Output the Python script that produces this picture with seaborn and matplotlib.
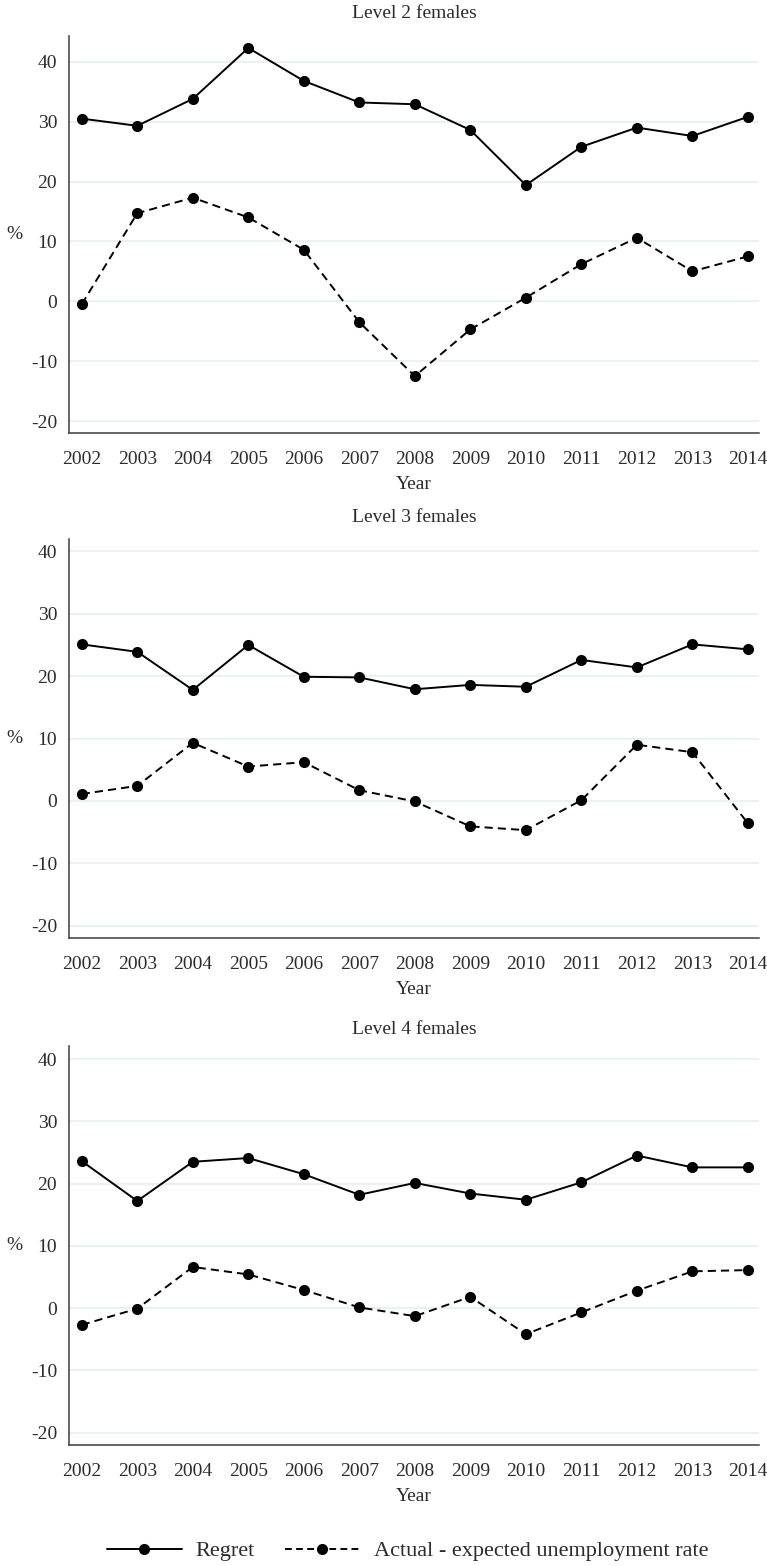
import matplotlib
matplotlib.use("Agg")
import matplotlib.pyplot as plt
from matplotlib.lines import Line2D
import seaborn as sns
import pandas as pd

# ---- data ----
years = [2002, 2003, 2004, 2005, 2006, 2007, 2008, 2009, 2010, 2011, 2012, 2013, 2014]

panel_titles = ["Level 2 females", "Level 3 females", "Level 4 females"]

regret_l2 = [30.5, 29.3, 33.8, 42.3, 36.8, 33.2, 32.9, 28.6, 19.4, 25.8, 29.0, 27.6, 30.8]
gap_l2 = [-0.5, 14.7, 17.3, 14.0, 8.6, -3.5, -12.5, -4.7, 0.6, 6.2, 10.6, 5.0, 7.5]

regret_l3 = [25.1, 23.9, 17.8, 25.0, 19.9, 19.8, 17.9, 18.6, 18.3, 22.6, 21.4, 25.1, 24.3]
gap_l3 = [1.1, 2.4, 9.3, 5.5, 6.2, 1.7, -0.1, -4.1, -4.7, 0.1, 9.0, 7.8, -3.6]

regret_l4 = [23.6, 17.2, 23.5, 24.1, 21.5, 18.2, 20.1, 18.4, 17.4, 20.2, 24.5, 22.6, 22.6]
gap_l4 = [-2.7, -0.1, 6.6, 5.4, 2.9, 0.1, -1.3, 1.8, -4.2, -0.7, 2.8, 5.9, 6.1]

y_ticks = [-20, -10, 0, 10, 20, 30, 40]
series_names = ["Regret", "Actual - expected unemployment rate"]

# ---- style ----
sns.set_theme(style="white")
plt.rcParams["font.family"] = ["Liberation Serif", "DejaVu Serif"]
TEXT = "#2b2b2b"
AXIS = "#3c3c3c"
GRID = "#e8f0f2"
MS = 8.0
LW = 1.4

fig = plt.figure(figsize=(7.67, 15.66), dpi=100)

W, H = 767.0, 1566.0
# pixel boxes of each panel: (top, bottom)
boxes = [(36, 433), (539, 938), (1046, 1445)]
ylims = [(-22.0, 44.3), (-22.0, 42.0), (-22.0, 42.1)]
title_pads = [13, 12, 9]
left_px, right_px = 69, 759

data = [(regret_l2, gap_l2), (regret_l3, gap_l3), (regret_l4, gap_l4)]

for i, ((top, bot), (reg, gap)) in enumerate(zip(boxes, data)):
    ax = fig.add_axes([left_px / W, 1 - bot / H, (right_px - left_px) / W, (bot - top) / H])
    df = pd.DataFrame({"Year": years, "Regret": reg, "Gap": gap})

    sns.lineplot(data=df, x="Year", y="Regret", ax=ax, color="black",
                 linewidth=LW, marker="o", markersize=MS,
                 markeredgewidth=0, zorder=3)
    sns.lineplot(data=df, x="Year", y="Gap", ax=ax, color="black",
                 linewidth=LW, marker="o", markersize=MS,
                 markeredgewidth=0, zorder=3)
    ax.lines[-1].set_dashes((4.2, 2.6))

    ax.set_xlim(2001.77, 2014.2)
    ax.set_ylim(*ylims[i])
    ax.set_xticks(years)
    ax.set_xticklabels([str(y) for y in years])
    ax.set_yticks(y_ticks)
    ax.set_yticklabels([str(t) for t in y_ticks])

    ax.grid(axis="y", color=GRID, linewidth=1.3, zorder=0)
    ax.grid(axis="x", visible=False)

    for side in ["top", "right"]:
        ax.spines[side].set_visible(False)
    for side in ["left", "bottom"]:
        ax.spines[side].set_color(AXIS)
        ax.spines[side].set_linewidth(1.1)

    ax.tick_params(axis="both", which="major", direction="out", length=5,
                   width=1.0, color=AXIS, labelsize=14, labelcolor=TEXT)
    ax.tick_params(axis="y", pad=3.5)
    ax.tick_params(axis="x", pad=8)

    ax.set_xlabel("Year", fontsize=14, color=TEXT, labelpad=5.5)
    ax.set_ylabel("%", fontsize=14, color=TEXT, rotation=0, va="center", ha="center")
    ax.yaxis.set_label_coords((14 - left_px) / (right_px - left_px), 0.5)

    ax.set_title(panel_titles[i], fontsize=14, color=TEXT, pad=title_pads[i])

# ---- legend ----
handles = [
    Line2D([0], [0], color="black", linewidth=LW, marker="o", markersize=MS,
           markeredgewidth=0),
    Line2D([0], [0], color="black", linewidth=LW, marker="o", markersize=MS,
           markeredgewidth=0, dashes=(3.5, 2.2)),
]
fig.legend(handles, series_names, loc="center", ncol=2, frameon=False,
           bbox_to_anchor=(0.531, 1 - 1551 / H), fontsize=16,
           handlelength=3.4, handletextpad=0.6, columnspacing=1.35,
           numpoints=1, labelcolor=TEXT, borderpad=0.2)

fig.savefig("out.png", dpi=100, facecolor="white")
